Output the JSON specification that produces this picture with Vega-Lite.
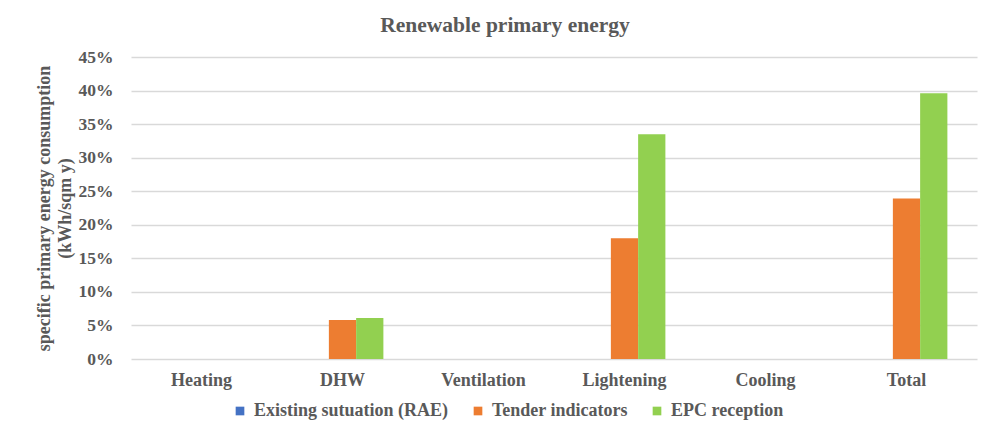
{
  "$schema": "https://vega.github.io/schema/vega-lite/v6.json",
  "autosize": {"type": "none"},
  "width": 846,
  "height": 302,
  "padding": {"left": 131, "top": 57, "right": 15, "bottom": 69},
  "background": "white",
  "title": {
    "text": "Renewable primary energy",
    "font": "Liberation Serif",
    "fontSize": 21.5,
    "fontWeight": "bold",
    "color": "#595959",
    "anchor": "middle",
    "dx": -49,
    "offset": 12
  },
  "data": {
    "values": [
      {"category": "Heating", "series": "Existing sutuation (RAE)", "value": 0},
      {"category": "Heating", "series": "Tender indicators", "value": 0},
      {"category": "Heating", "series": "EPC reception", "value": 0},
      {"category": "DHW", "series": "Existing sutuation (RAE)", "value": 0},
      {"category": "DHW", "series": "Tender indicators", "value": 0.058},
      {"category": "DHW", "series": "EPC reception", "value": 0.061},
      {"category": "Ventilation", "series": "Existing sutuation (RAE)", "value": 0},
      {"category": "Ventilation", "series": "Tender indicators", "value": 0},
      {"category": "Ventilation", "series": "EPC reception", "value": 0},
      {"category": "Lightening", "series": "Existing sutuation (RAE)", "value": 0},
      {"category": "Lightening", "series": "Tender indicators", "value": 0.18},
      {"category": "Lightening", "series": "EPC reception", "value": 0.335},
      {"category": "Cooling", "series": "Existing sutuation (RAE)", "value": 0},
      {"category": "Cooling", "series": "Tender indicators", "value": 0},
      {"category": "Cooling", "series": "EPC reception", "value": 0},
      {"category": "Total", "series": "Existing sutuation (RAE)", "value": 0},
      {"category": "Total", "series": "Tender indicators", "value": 0.239},
      {"category": "Total", "series": "EPC reception", "value": 0.396}
    ]
  },
  "mark": {"type": "bar"},
  "encoding": {
    "x": {
      "field": "category",
      "type": "nominal",
      "sort": ["Heating", "DHW", "Ventilation", "Lightening", "Cooling", "Total"],
      "scale": {"paddingInner": 0.42, "paddingOuter": 0.21},
      "axis": {
        "title": null,
        "labelAngle": 0,
        "domain": false,
        "ticks": false,
        "labelPadding": 12,
        "labelFont": "Liberation Serif",
        "labelFontSize": 18,
        "labelFontWeight": "bold",
        "labelColor": "#595959"
      }
    },
    "xOffset": {
      "field": "series",
      "type": "nominal",
      "sort": ["Existing sutuation (RAE)", "Tender indicators", "EPC reception"],
      "scale": {"paddingInner": 0, "paddingOuter": 0}
    },
    "y": {
      "field": "value",
      "type": "quantitative",
      "scale": {"domain": [0, 0.45], "nice": false},
      "axis": {
        "values": [0, 0.05, 0.1, 0.15, 0.2, 0.25, 0.3, 0.35, 0.4, 0.45],
        "format": ".0%",
        "title": ["specific primary energy consumption", "(kWh/sqm  y)"],
        "titleFont": "Liberation Serif",
        "titleFontSize": 18,
        "titleFontWeight": "bold",
        "titleColor": "#595959",
        "titlePadding": 4,
        "titleLineHeight": 21,
        "domain": false,
        "ticks": false,
        "labelPadding": 18,
        "labelFont": "Liberation Serif",
        "labelFontSize": 17.5,
        "labelFontWeight": "bold",
        "labelColor": "#595959",
        "gridColor": "#d9d9d9",
        "gridWidth": 1.3
      }
    },
    "color": {
      "field": "series",
      "type": "nominal",
      "sort": ["Existing sutuation (RAE)", "Tender indicators", "EPC reception"],
      "scale": {
        "domain": ["Existing sutuation (RAE)", "Tender indicators", "EPC reception"],
        "range": ["#4472c4", "#ed7d31", "#92d050"]
      },
      "legend": {
        "title": null,
        "orient": "none",
        "direction": "horizontal",
        "legendX": 100,
        "legendY": 345,
        "symbolType": "square",
        "symbolSize": 75,
        "symbolStrokeWidth": 0,
        "labelFont": "Liberation Serif",
        "labelFontSize": 18,
        "labelFontWeight": "bold",
        "labelColor": "#595959",
        "labelLimit": 0,
        "columnPadding": 20,
        "labelOffset": 5
      }
    }
  },
  "config": {"view": {"stroke": null}}
}
